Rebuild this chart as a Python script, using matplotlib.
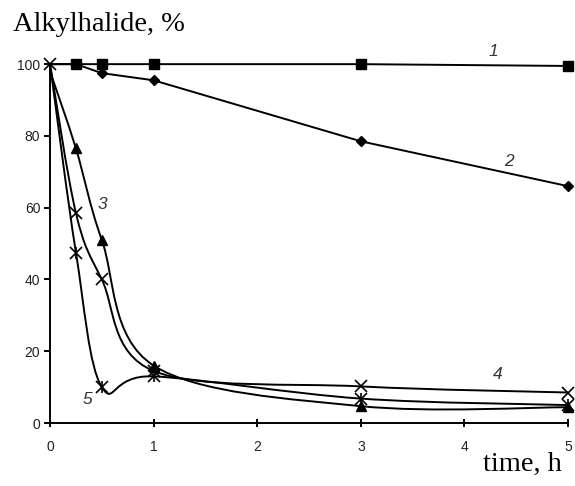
#!/usr/bin/env python3
import numpy as np
import matplotlib
matplotlib.use('Agg')
import matplotlib.pyplot as plt
from matplotlib.path import Path
from matplotlib.patches import PathPatch

# Data (time in h, alkylhalide in %)
time_h = [0, 0.25, 0.5, 1, 3, 5]
curve_1 = [100, 100, 100, 100, 100, 99.5]
curve_2 = [100, 100, 97.5, 95.5, 78.5, 66]
curve_3 = [98, 76.5, 51, 16, 4.7, 4.4]
curve_4 = [100, 58.5, 40, 14.5, 10.2, 8.5]
curve_5 = [100, 47.5, 10, 13, 6.8, 5]

# label text and where it sits (data coords)
curve_labels = ['1', '2', '3', '4', '5']
label_pos = [(4.28, 103.5), (4.43, 73), (0.51, 61), (4.32, 13.5), (0.36, 6.5)]


# Excel-like smoothed line: cubic bezier through the points
def smooth_path(x, y):
    pts = np.column_stack([x, y]).astype(float)
    n = len(pts)
    verts = [pts[0]]
    codes = [Path.MOVETO]
    for i in range(n - 1):
        p0 = pts[max(i - 1, 0)]
        p1 = pts[i]
        p2 = pts[i + 1]
        p3 = pts[min(i + 2, n - 1)]
        verts += [p1 + (p2 - p0) / 6.0, p2 - (p3 - p1) / 6.0, p2]
        codes += [Path.CURVE4] * 3
    return Path(verts, codes)


fig = plt.figure(figsize=(5.75, 4.86), dpi=100)
ax = fig.add_axes([0.087, 0.1296, 0.901, 0.7384])

lw = 1.4
# straight lines
ax.plot(time_h, curve_1, color='black', lw=lw, clip_on=False, zorder=3)
ax.plot(time_h[1:], curve_1[1:], ls='none', color='black', marker='s', ms=6.5, clip_on=False, zorder=3)
ax.plot(time_h, curve_2, color='black', lw=lw, clip_on=False, zorder=3)
ax.plot(time_h[2:], curve_2[2:], ls='none', color='black', marker='D', ms=5.5, clip_on=False, zorder=3)

# smoothed lines
for yy in (curve_3, curve_4, curve_5):
    ax.add_patch(PathPatch(smooth_path(time_h, yy), facecolor='none', edgecolor='black',
                           lw=lw, transform=ax.transData, clip_on=False, zorder=3))

ax.plot(time_h[1:], curve_3[1:], ls='none', color='black', marker='^', ms=7, clip_on=False, zorder=4)
ax.plot(time_h, curve_4, ls='none', color='black', marker='x', ms=8, mew=1.2, clip_on=False, zorder=4)
ax.plot(time_h[1:], curve_5[1:], ls='none', color='black', marker='x', ms=8, mew=1.2, clip_on=False, zorder=4)
ax.plot(time_h[1:], curve_5[1:], ls='none', color='black', marker='|', ms=9, mew=1.2, clip_on=False, zorder=4)

for txt, (tx, ty) in zip(curve_labels, label_pos):
    ax.text(tx, ty, txt, fontsize=12.5, style='italic', family='Liberation Sans',
            ha='center', va='center', color='#333333')

ax.set_xlim(0, 5)
ax.set_ylim(0, 100)
ax.set_xticks(range(0, 6))
ax.set_yticks(range(0, 101, 20))
for s in ('top', 'right'):
    ax.spines[s].set_visible(False)
for s in ('left', 'bottom'):
    ax.spines[s].set_linewidth(1.4)
ax.tick_params(axis='x', direction='inout', length=6, width=1.4, pad=9)
ax.tick_params(axis='y', direction='out', length=4, width=1.4, pad=3)
for lab in ax.get_xticklabels() + ax.get_yticklabels():
    lab.set_family('Liberation Sans')
    lab.set_fontsize(10)
    lab.set_color('#222222')

fig.text(13 / 575, 1 - 31 / 486, 'Alkylhalide, %', family='Liberation Serif', fontsize=20.5,
         ha='left', va='baseline')
fig.text(562 / 575, 1 - 471 / 486, 'time, h', family='Liberation Serif', fontsize=20.5,
         ha='right', va='baseline')

fig.savefig('out.png', dpi=100)
